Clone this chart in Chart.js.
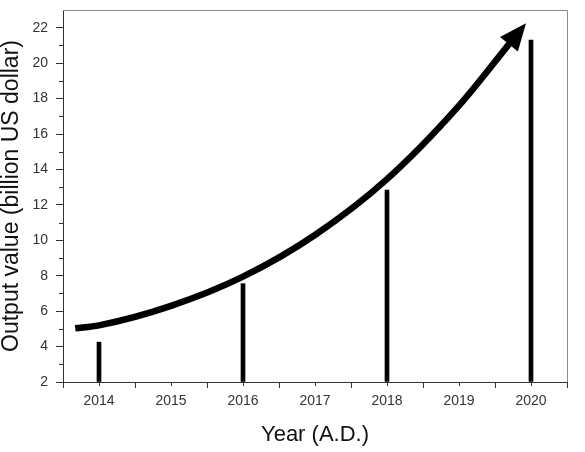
<!DOCTYPE html>
<html>
<head>
  <meta charset="UTF-8">
  <title>Output value</title>
  <script src="https://cdn.jsdelivr.net/npm/chart.js"></script>
  <style>
    html, body { margin: 0; padding: 0; background: #fff; }
    #wrap { width: 585px; height: 452px; }
  </style>
</head>
<body>
  <div id="wrap"><canvas id="grafico"></canvas></div>

  <script>
    // bars: yearly output value
    const barYears = [2014, 2016, 2018, 2020];
    const barValues = [4.25, 7.55, 12.83, 21.3];

    // trend arrow
    const curveYears = [2013.67, 2014, 2015, 2016, 2017, 2018, 2019, 2019.72];
    const curveValues = [5.03, 5.2, 6.3, 7.95, 10.3, 13.45, 17.6, 21.2];

    const xTicks = [2014, 2015, 2016, 2017, 2018, 2019, 2020];
    const yTicks = [2, 4, 6, 8, 10, 12, 14, 16, 18, 20, 22];

    const fuente = 'Liberation Sans, Arial, sans-serif';

    // frame, minor ticks and the arrow head
    const extras = {
      id: 'extras',
      afterDatasetsDraw(chart) {
        const ctx = chart.ctx;
        const meta = chart.getDatasetMeta(0);
        const pts = meta.data;
        const a = pts[pts.length - 2], b = pts[pts.length - 1];
        let dx = b.x - a.x, dy = b.y - a.y;
        const len = Math.hypot(dx, dy);
        dx /= len; dy /= len;
        const largo = 24, medio = 11.5;
        ctx.save();
        ctx.fillStyle = '#000';
        ctx.beginPath();
        ctx.moveTo(b.x + dx * largo, b.y + dy * largo);
        ctx.lineTo(b.x - dy * medio - dx * 3, b.y + dx * medio - dy * 3);
        ctx.lineTo(b.x + dy * medio - dx * 3, b.y - dx * medio - dy * 3);
        ctx.closePath();
        ctx.fill();
        ctx.restore();
      },
      afterDraw(chart) {
        const ctx = chart.ctx;
        const area = chart.chartArea;
        const xs = chart.scales.x, ys = chart.scales.y;
        ctx.save();
        ctx.strokeStyle = '#8a8a8a';
        ctx.lineWidth = 1;
        ctx.beginPath();
        ctx.moveTo(area.left, Math.round(area.top) + 0.5);
        ctx.lineTo(Math.round(area.right) + 0.5, Math.round(area.top) + 0.5);
        ctx.lineTo(Math.round(area.right) + 0.5, area.bottom);
        ctx.stroke();
        ctx.strokeStyle = '#333';
        ctx.beginPath();
        for (let v = xs.min + 0.5; v < xs.max; v += 1) {
          const px = Math.round(xs.getPixelForValue(v)) + 0.5;
          ctx.moveTo(px, area.bottom);
          ctx.lineTo(px, area.bottom + 4);
        }
        for (let v = ys.min + 1; v < ys.max; v += 2) {
          const py = Math.round(ys.getPixelForValue(v)) + 0.5;
          ctx.moveTo(area.left, py);
          ctx.lineTo(area.left - 4, py);
        }
        ctx.stroke();
        ctx.restore();
      }
    };

    new Chart(document.getElementById('grafico').getContext('2d'), {
      type: 'bar',
      data: {
        datasets: [{
          type: 'line',
          data: curveYears.map((x, i) => ({ x: x, y: curveValues[i] })),
          borderColor: '#000',
          borderWidth: 6.5,
          borderCapStyle: 'butt',
          pointRadius: 0,
          cubicInterpolationMode: 'monotone',
          fill: false
        }, {
          type: 'bar',
          data: barYears.map((x, i) => ({ x: x, y: barValues[i] })),
          backgroundColor: '#000',
          barThickness: 4,
          base: 2
        }]
      },
      options: {
        responsive: true,
        maintainAspectRatio: false,
        animation: false,
        layout: { padding: { left: 0, top: 10, right: 18, bottom: 0 } },
        plugins: {
          legend: { display: false },
          tooltip: { enabled: false }
        },
        scales: {
          x: {
            type: 'linear',
            min: 2013.5,
            max: 2020.5,
            offset: false,
            afterFit: s => { s.height = 70; },
            afterBuildTicks: s => { s.ticks = xTicks.map(v => ({ value: v })); },
            grid: { drawOnChartArea: false, tickLength: 6, tickColor: '#333' },
            border: { color: '#333', width: 1 },
            ticks: {
              padding: 5,
              color: '#333',
              font: { family: fuente, size: 14 },
              callback: v => String(v),
              maxRotation: 0
            },
            title: {
              display: true,
              text: 'Year (A.D.)',
              color: '#111',
              font: { family: fuente, size: 22 },
              padding: { top: 0, bottom: 4 }
            }
          },
          y: {
            min: 2,
            max: 23,
            afterFit: s => { s.width = 63; s.paddingTop = 0; s.paddingBottom = 0; },
            afterBuildTicks: s => { s.ticks = yTicks.map(v => ({ value: v })); },
            grid: { drawOnChartArea: false, tickLength: 7, tickColor: '#333' },
            border: { color: '#333', width: 1 },
            ticks: {
              padding: 8,
              color: '#333',
              font: { family: fuente, size: 14 },
              callback: v => String(v)
            },
            title: {
              display: true,
              text: 'Output value (billion US dollar)',
              color: '#111',
              font: { family: fuente, size: 23, lineHeight: 1 },
              padding: { top: 0, bottom: 0 }
            }
          }
        }
      },
      plugins: [extras]
    });
  </script>
</body>
</html>
